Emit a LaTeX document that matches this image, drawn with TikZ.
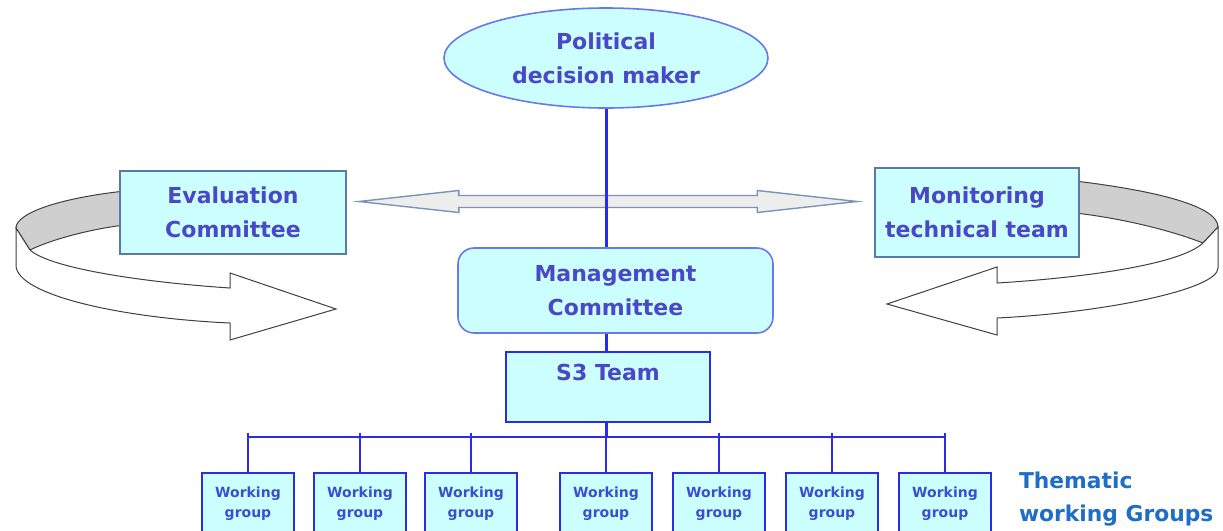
\documentclass[tikz,border=0pt]{standalone}
\usepackage{xcolor}
\usepackage{fontspec}
\setmainfont{DejaVu Sans}
\usepackage{tikz}
\usetikzlibrary{calc}
\usetikzlibrary{arrows.meta}
\usetikzlibrary{shapes}
\usetikzlibrary{positioning}
\usetikzlibrary{shapes.geometric}
\definecolor{boxfill}{HTML}{CCFFFF}
\definecolor{labeltext}{HTML}{4B48C8}
\definecolor{linkblue}{HTML}{2B2BF0}
\definecolor{sideedge}{HTML}{5A78A8}
\definecolor{mgmtedge}{HTML}{6A78F0}
\definecolor{wgtext}{HTML}{3A4FD0}
\definecolor{thematic}{HTML}{1E6EC8}
\definecolor{ribbongray}{HTML}{CFCFCF}
\tikzset{>=latex}
\tikzstyle{big} = [font = \fontsize{11}{17}\selectfont\bfseries, text = labeltext, align = center]
\tikzstyle{sidebox} = [rectangle, draw = sideedge, fill = boxfill, line width = 0.8pt, big]
\tikzstyle{wgbox} = [rectangle, draw = linkblue, fill = boxfill, line width = 0.8pt, minimum width = 46pt, minimum height = 31pt, inner sep = 0, align = center, text = wgtext, font = \fontsize{7}{10}\selectfont\bfseries]
\tikzstyle{conn} = [-, draw = linkblue, line width = 1.5pt]
\tikzstyle{ribbon} = [draw = black!75, line width = 0.5pt]

\begin{document}
\begin{tikzpicture}[x = 0.5pt, y = -0.5pt]
\useasboundingbox (0, 0) rectangle (1223, 531);
\clip (0, 0) rectangle (1223, 531);
% feedback ribbons behind the side boxes
\path [ribbon, fill = ribbongray] (125, 191) .. controls (60, 198) and (16, 213) .. (16, 228) -- (30, 250) .. controls (50, 240) and (90, 229) .. (125, 225) -- cycle;
\path [ribbon, fill = white] (16, 228) -- (16, 266) .. controls (18, 295) and (120, 318) .. (230, 323) -- (230, 340) -- (336, 309) -- (230, 273) -- (230, 288) .. controls (140, 282) and (50, 268) .. (30, 250) -- cycle;
\path [ribbon, fill = ribbongray] (1075, 181) .. controls (1150, 190) and (1218, 205) .. (1218, 227) -- (1203, 243) .. controls (1170, 230) and (1120, 218) .. (1075, 213) -- cycle;
\path [ribbon, fill = white] (1218, 227) -- (1218, 268) .. controls (1218, 290) and (1100, 313) .. (997, 318) -- (997, 335) -- (887, 304) -- (997, 267) -- (997, 283) .. controls (1080, 278) and (1180, 265) .. (1203, 243) -- cycle;

\node [ellipse, draw = mgmtedge, fill = boxfill, line width = 0.8pt, minimum width = 162pt, minimum height = 50pt, inner sep = 0, big] (PDM) at (606, 58) {Political\\decision maker};
\node [sidebox, minimum width = 113pt, minimum height = 41.5pt] (EC) at (233, 212.5) {Evaluation\\Committee};
\node [sidebox, minimum width = 102pt, minimum height = 44.5pt] (MTT) at (977, 212.5) {Monitoring\\technical team};
\node [rectangle, rounded corners = 8pt, draw = mgmtedge, fill = boxfill, line width = 0.8pt, minimum width = 157.5pt, minimum height = 42.5pt, big] (MC) at (615.5, 290.5) {Management\\Committee};
\node [rectangle, draw = linkblue, fill = boxfill, line width = 1pt, minimum width = 102pt, minimum height = 35pt, label = {[anchor = north, inner sep = 6.5pt, big]north:S3 Team}] (S3) at (608, 387) {};

% two way arrow between the side boxes
\coordinate (AL) at ($(EC.east) + (12, -11)$);
\coordinate (AR) at ($(MTT.west) + (-17, -11)$);
\path [draw = sideedge!80, fill = black!7, line width = 0.7pt] (AL) -- ($(AL) + (100, -11)$) -- ($(AL) + (100, -6)$) -- ($(AR) + (-100, -6)$) -- ($(AR) + (-100, -11)$) -- (AR) -- ($(AR) + (-100, 11)$) -- ($(AR) + (-100, 6)$) -- ($(AL) + (100, 6)$) -- ($(AL) + (100, 11)$) -- cycle;

\coordinate (bus) at (606, 437);
\draw [conn] (PDM.south) -- (PDM.south |- MC.north);
\draw [conn] (MC.south -| PDM) -- (S3.north -| PDM);
\draw [conn] (S3.south -| PDM) -- (bus);

\foreach \x [count = \i] in {248, 360, 471, 606, 719, 832, 945}
{
  \node [wgbox] (WG\i) at (\x, 504) {Working\\group};
  \draw [conn, line width = 1.2pt] ($(WG\i.north |- bus) + (0, -4)$) -- (WG\i.north);
}
\draw [conn, line width = 1.2pt] (WG1.north |- bus) -- (WG7.north |- bus);

\node [anchor = west, align = left, text = thematic, font = \fontsize{10.9}{16.5}\selectfont\bfseries] (TWG) at (1012, 499) {Thematic\\working Groups};
\end{tikzpicture}
\end{document}
